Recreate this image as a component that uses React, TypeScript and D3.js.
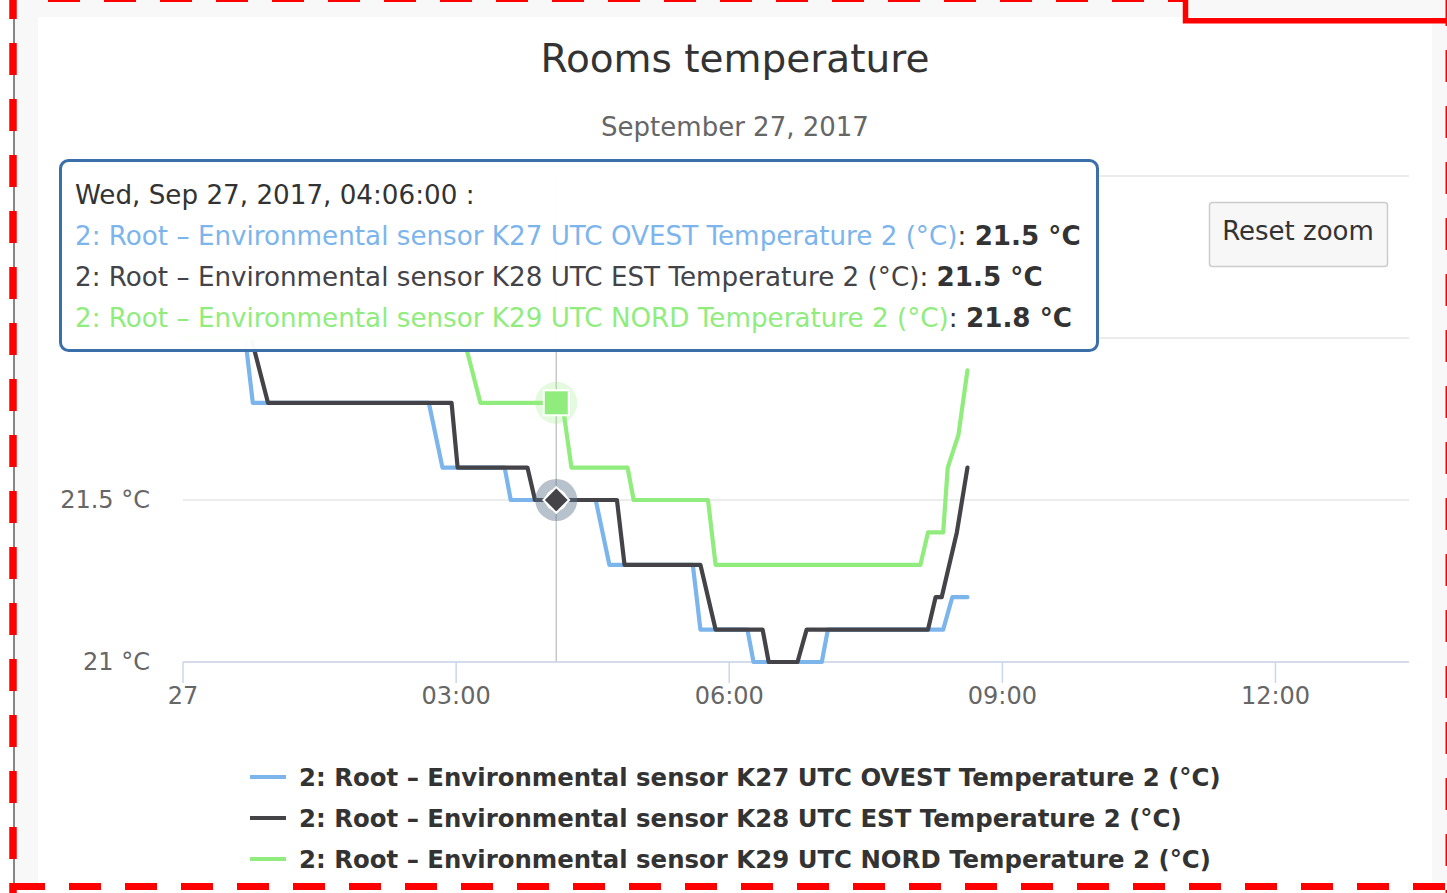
import React from 'react';
import * as d3 from 'd3';

const TITLE = 'Rooms temperature';
const SUBTITLE = 'September 27, 2017';
const RESET_LABEL = 'Reset zoom';

const SERIES_NAMES = [
  '2: Root – Environmental sensor K27 UTC OVEST Temperature 2 (°C)',
  '2: Root – Environmental sensor K28 UTC EST Temperature 2 (°C)',
  '2: Root – Environmental sensor K29 UTC NORD Temperature 2 (°C)',
];
const SERIES_COLORS = ['#7cb5ec', '#434348', '#90ed7d'];

const K27_TIMES = ['00:00', '00:41', '00:46', '02:42', '02:51', '03:32', '03:36', '04:32', '04:41', '05:36', '05:41', '06:12', '06:16', '07:01', '07:05', '08:21', '08:27', '08:37'];
const K27_VALUES = [22.0, 22.0, 21.8, 21.8, 21.6, 21.6, 21.5, 21.5, 21.3, 21.3, 21.1, 21.1, 21.0, 21.0, 21.1, 21.1, 21.2, 21.2];

const K28_TIMES = ['00:00', '00:45', '00:56', '02:57', '03:01', '03:47', '03:52', '04:46', '04:51', '05:41', '05:51', '06:22', '06:26', '06:45', '06:51', '08:11', '08:16', '08:20', '08:30', '08:37'];
const K28_VALUES = [22.0, 22.0, 21.8, 21.8, 21.6, 21.6, 21.5, 21.5, 21.3, 21.3, 21.1, 21.1, 21.0, 21.0, 21.1, 21.1, 21.2, 21.2, 21.4, 21.6];

const K29_TIMES = ['00:00', '03:05', '03:16', '04:06', '04:10', '04:16', '04:53', '04:57', '05:46', '05:51', '08:06', '08:11', '08:21', '08:24', '08:31', '08:37'];
const K29_VALUES = [22.0, 22.0, 21.8, 21.8, 21.8, 21.6, 21.6, 21.5, 21.5, 21.3, 21.3, 21.4, 21.4, 21.6, 21.7, 21.9];

const X_DOMAIN = ['00:00', '13:28'];
const X_TICKS = ['00:00', '03:00', '06:00', '09:00', '12:00'];
const Y_DOMAIN = [21, 22.5];
const Y_GRID = [21, 21.5, 22, 22.5];
const Y_LABELS = [21, 21.5]; // 22 and 22.5 labels are hidden behind the tooltip

const HOVER_TIME = '04:06';
const HOVER_VALUES = [21.5, 21.5, 21.8];

const FONT = '"DejaVu Sans", sans-serif';

function parseT(s: string): Date {
  const [h, m] = s.split(':').map(Number);
  return new Date(Date.UTC(2017, 8, 27, h, m));
}

const W = 1447;
const H = 893;
const PLOT = { left: 183, right: 1409, top: 176, bottom: 662 };

export default function App() {
  const x = d3.scaleUtc().domain(X_DOMAIN.map(parseT)).range([PLOT.left, PLOT.right]);
  const y = d3.scaleLinear().domain(Y_DOMAIN).range([PLOT.bottom, PLOT.top]);

  const series = [
    { times: K27_TIMES, values: K27_VALUES },
    { times: K28_TIMES, values: K28_VALUES },
    { times: K29_TIMES, values: K29_VALUES },
  ].map((s, i) => ({
    name: SERIES_NAMES[i],
    color: SERIES_COLORS[i],
    points: s.times.map((t, j) => ({ t: parseT(t), v: s.values[j] })),
  }));

  const line = d3
    .line<{ t: Date; v: number }>()
    .x((d) => x(d.t))
    .y((d) => y(d.v));

  const tickFmt = (d: Date) => (d.getUTCHours() === 0 ? d3.utcFormat('%d')(d) : d3.utcFormat('%H:%M')(d));
  const hoverT = parseT(HOVER_TIME);
  const hx = x(hoverT);
  const headerFmt = d3.utcFormat('%a, %b %d, %Y, %H:%M:%S');
  const valFmt = d3.format('.1f');

  const diamond = d3.symbol(d3.symbolDiamond2, 420)();
  const leftDashPath = `M13,-13 L13,${H}`;

  return (
    <div style={{ position: 'fixed', left: 0, top: 0 }}>
      <svg width={W} height={H} style={{ display: 'block', fontFamily: FONT }}>
        <rect x={0} y={0} width={W} height={H} fill="#ffffff" />
        <rect x={14} y={0} width={W - 14} height={886} fill="#f8f8f8" />
        <rect x={38} y={17} width={1394} height={869} fill="#ffffff" />
        <line x1={14} y1={0} x2={14} y2={884} stroke="#555" strokeWidth={1.4} />

        {/* title */}
        <text x={735} y={72} textAnchor="middle" fontSize={39} fill="#333333">{TITLE}</text>
        <text x={735} y={136} textAnchor="middle" fontSize={26} fill="#666666">{SUBTITLE}</text>

        {/* grid */}
        {Y_GRID.map((v) => (
          <line key={'g' + v} x1={PLOT.left} x2={PLOT.right} y1={y(v)} y2={y(v)} stroke="#e6e6e6" strokeWidth={1.5} />
        ))}
        {Y_LABELS.map((v) => (
          <text key={'yl' + v} x={150} y={y(v) + 8} textAnchor="end" fontSize={24} fill="#666666">{`${v} °C`}</text>
        ))}

        {/* crosshair */}
        <line x1={hx} x2={hx} y1={PLOT.top} y2={PLOT.bottom} stroke="#c8c8c8" strokeWidth={1.5} />

        {/* x axis */}
        <line x1={PLOT.left} x2={PLOT.right} y1={PLOT.bottom} y2={PLOT.bottom} stroke="#ccd6eb" strokeWidth={1.5} />
        {X_TICKS.map(parseT).map((d, i) => (
          <g key={'xt' + i}>
            <line x1={x(d)} x2={x(d)} y1={PLOT.bottom} y2={PLOT.bottom + 21} stroke="#ccd6eb" strokeWidth={1.5} />
            <text x={x(d)} y={704} textAnchor="middle" fontSize={24} fill="#666666">{tickFmt(d)}</text>
          </g>
        ))}

        {/* series */}
        {series.map((s) => (
          <path key={s.name} d={line(s.points) || ''} fill="none" stroke={s.color} strokeWidth={4.2} strokeLinejoin="round" strokeLinecap="round" />
        ))}

        {/* hover markers */}
        <circle cx={hx} cy={y(HOVER_VALUES[0])} r={21} fill={SERIES_COLORS[0]} fillOpacity={0.25} />
        <circle cx={hx} cy={y(HOVER_VALUES[1])} r={21} fill={SERIES_COLORS[1]} fillOpacity={0.25} />
        <circle cx={hx} cy={y(HOVER_VALUES[2])} r={21} fill={SERIES_COLORS[2]} fillOpacity={0.25} />
        <circle cx={hx} cy={y(HOVER_VALUES[0])} r={10} fill={SERIES_COLORS[0]} stroke="#ffffff" strokeWidth={2} />
        <path d={diamond || ''} transform={`translate(${hx},${y(HOVER_VALUES[1])})`} fill={SERIES_COLORS[1]} stroke="#ffffff" strokeWidth={2} />
        <rect x={hx - 12.5} y={y(HOVER_VALUES[2]) - 12.5} width={25} height={25} fill={SERIES_COLORS[2]} stroke="#ffffff" strokeWidth={2} />

        {/* legend */}
        {series.map((s, i) => (
          <g key={'lg' + i}>
            <line x1={250} x2={286} y1={777 + i * 41} y2={777 + i * 41} stroke={s.color} strokeWidth={4.2} />
            <text x={299} y={786 + i * 41} fontSize={24.4} fontWeight="bold" fill="#333333">{s.name}</text>
          </g>
        ))}

        {/* reset zoom */}
        <rect x={1209.5} y={202.5} width={178} height={64} rx={3} fill="#f7f7f7" stroke="#cccccc" strokeWidth={1.5} />
        <text x={1298} y={240} textAnchor="middle" fontSize={26} fill="#333333">{RESET_LABEL}</text>

        {/* tooltip */}
        <rect x={60.5} y={160.5} width={1037} height={190} rx={8} fill="#ffffff" fillOpacity={0.97} stroke="#3b6fa9" strokeWidth={3} />
        <text x={75} y={204} fontSize={26.2} fill="#333333">{headerFmt(hoverT) + ' :'}</text>
        {series.map((s, i) => (
          <text key={'tt' + i} x={75} y={245 + i * 41} fontSize={26.2} fill="#333333">
            <tspan fill={s.color}>{s.name}</tspan>
            <tspan>{': '}</tspan>
            <tspan fontWeight="bold">{`${valFmt(HOVER_VALUES[i])} °C`}</tspan>
          </text>
        ))}

        {/* red annotation borders */}
        <path d={leftDashPath} stroke="#ff0000" strokeWidth={7.5} strokeDasharray="32 24" fill="none" />
        <path d={`M-8,886.5 L${W},886.5`} stroke="#ff0000" strokeWidth={7} strokeDasharray="32 24" strokeDashoffset={-21} fill="none" />
        <path d={`M48,-1.5 L1185,-1.5`} stroke="#ff0000" strokeWidth={7} strokeDasharray="32 24" fill="none" />
        <path d={`M1449,-6 L1449,${H}`} stroke="#ff0000" strokeWidth={7} strokeDasharray="32 24" fill="none" />
        <path d={`M1185.5,0 L1185.5,20.8 L${W},20.8`} stroke="#ff0000" strokeWidth={5.5} fill="none" />
      </svg>
    </div>
  );
}
